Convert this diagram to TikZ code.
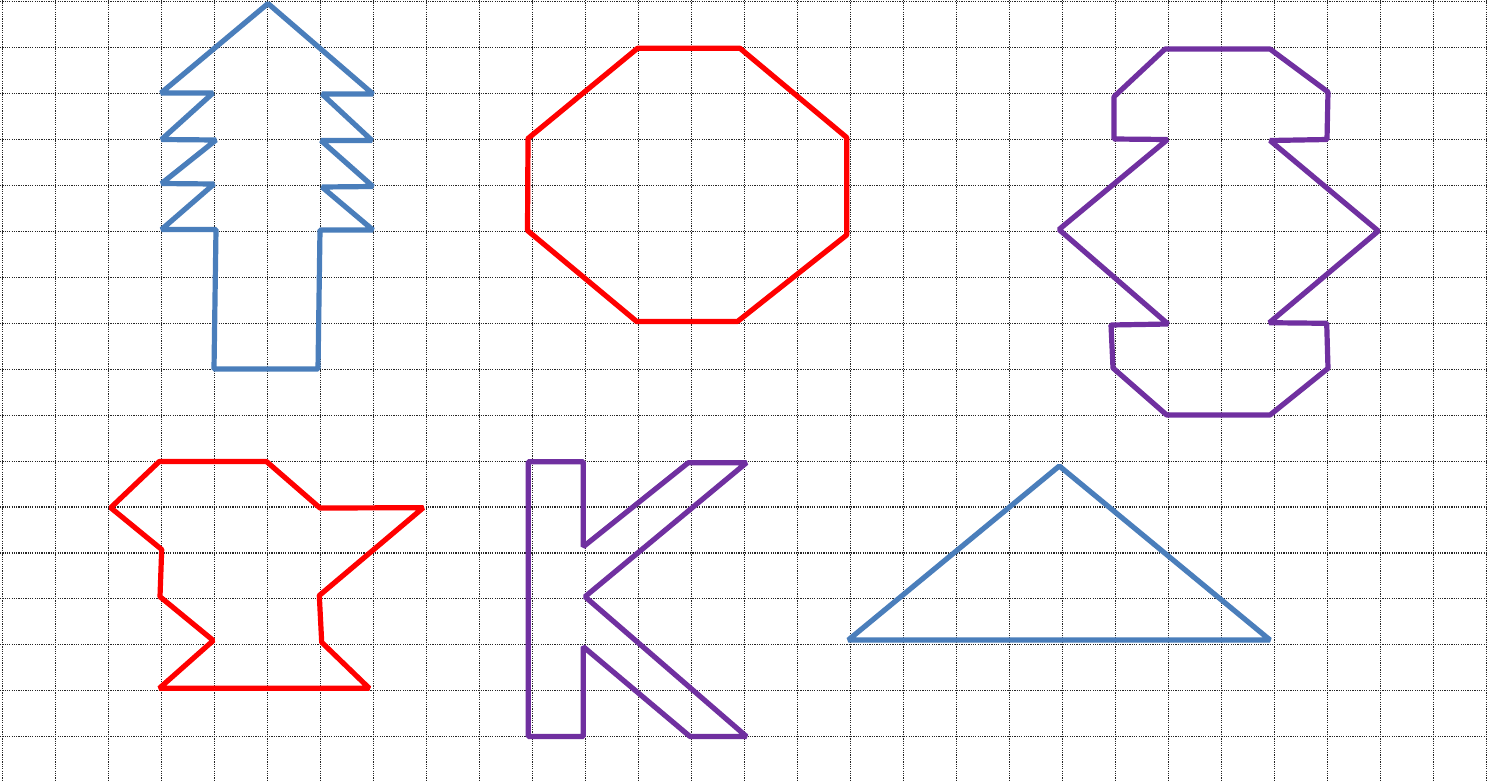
\documentclass[tikz,border=0pt]{standalone}
\usepackage{xcolor}
\definecolor{shblue}{RGB}{74,126,187}
\definecolor{shred}{RGB}{255,0,0}
\definecolor{shpurple}{RGB}{112,48,160}
\tikzset{
  gridline/.style={draw=black!85, line width=1.1pt, dash pattern=on 1.2pt off 1.1pt},
  outlineshape/.style={line width=5.2pt, line join=bevel},
}
\begin{document}
\begin{tikzpicture}[x=1pt, y=-1pt]
\fill[white] (0,0) rectangle (1500,780);
\useasboundingbox (0,0) rectangle (1500,780);
  % grid
  \foreach \i in {0,...,28} {
    \draw[gridline] ({2.7+53*\i},0) -- ({2.7+53*\i},780);
  }
  \foreach \j in {0,...,16} {
    \draw[gridline] (0,{1.7+45.94*\j}) -- (1486.7,{1.7+45.94*\j});
  }
  % arrow (blue)
  \draw[outlineshape, draw=shblue] (268,3.5) -- (161,93) -- (213,93) -- (161.5,139.5) -- (216,140) -- (161.5,183.5)
    -- (214,184) -- (161.5,229.5) -- (216,229.5) -- (214,369) -- (318,369) -- (320,230) -- (373,230)
    -- (322,187) -- (373,186.5) -- (321,140.5) -- (372,140.5) -- (322,94) -- (373,94) -- cycle;
  % octagon (red)
  \draw[outlineshape, draw=shred] (637.5,48.3) -- (740,48.3) -- (846.7,137.5) -- (846.7,235) -- (737.5,321.5)
    -- (636.7,321.5) -- (527.5,230.5) -- (528,138.5) -- cycle;
  % purple top-right shape
  \draw[outlineshape, draw=shpurple] (1165,49) -- (1270,49) -- (1328,92) -- (1327,139.5) -- (1270,140.5)
    -- (1378.3,231) -- (1269.3,322.7) -- (1326.7,323.3) -- (1328,368.3) -- (1270,415) -- (1166.7,415)
    -- (1113,368) -- (1111,325) -- (1168,324) -- (1059,229.5) -- (1167.5,139.5) -- (1114,139)
    -- (1114,96.7) -- cycle;
  % red bottom-left shape
  \draw[outlineshape, draw=shred] (159.3,461.5) -- (266.5,461.5) -- (320,508) -- (423.3,507.7) -- (319.3,595.5)
    -- (321.7,642.3) -- (369.3,688.3) -- (159.3,688.3) -- (213.3,640.5) -- (160,596.7) -- (161.7,549.5)
    -- (110.7,507.7) -- cycle;
  % K (purple)
  \draw[outlineshape, draw=shpurple] (528.3,461.7) -- (583.3,461.7) -- (583.3,546.7) -- (688.3,462.7)
    -- (746.5,462.7) -- (585,596.7) -- (746.5,736.5) -- (690,736.5) -- (583.3,646.7) -- (583.3,736.5)
    -- (528.3,736.5) -- cycle;
  % triangle (blue)
  \draw[outlineshape, draw=shblue] (848.3,640) -- (1059.3,466) -- (1270,640) -- cycle;
\end{tikzpicture}
\end{document}
